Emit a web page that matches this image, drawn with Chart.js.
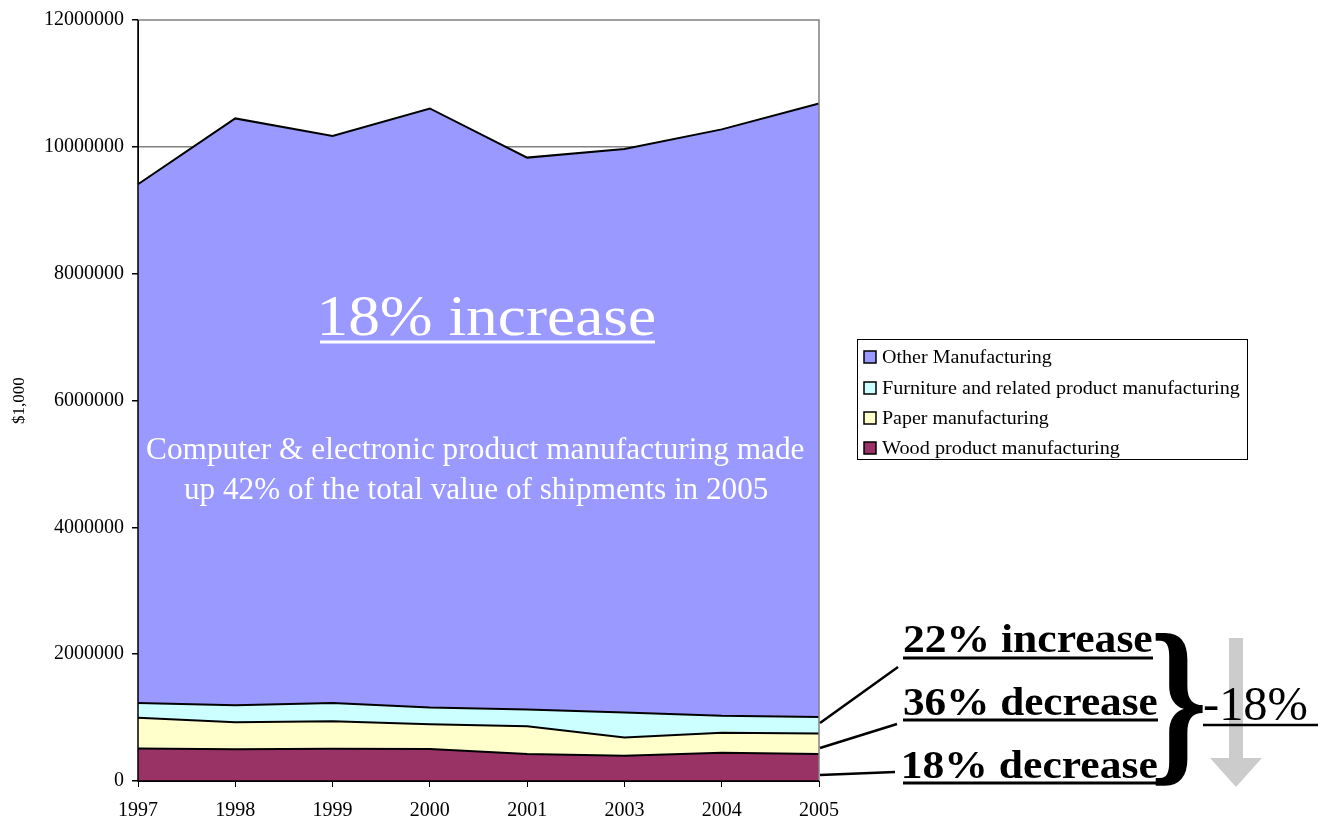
<!DOCTYPE html>
<html>
<head>
<meta charset="utf-8">
<script src="https://cdn.jsdelivr.net/npm/chart.js@4/dist/chart.umd.min.js"></script>
<style>
  body { margin: 0; background: #fff; }
  #wrap { position: relative; width: 1320px; height: 824px; }
  #c { position: absolute; left: 0; top: 0; }
  #overlay { position: absolute; left: 0; top: 0; pointer-events: none; }
</style>
</head>
<body>
<div id="wrap">
  <canvas id="c" width="1320" height="824"></canvas>
  <svg id="overlay" width="1320" height="824" xmlns="http://www.w3.org/2000/svg"></svg>
</div>
<script>
const years = ['1997', '1998', '1999', '2000', '2001', '2003', '2004', '2005'];
// values in $1,000
const wood = [514000, 499000, 508000, 503000, 425000, 398000, 445000, 425000];
const paper = [482000, 429000, 436000, 393000, 440000, 289000, 315000, 325000];
const furniture = [235000, 267000, 287000, 263000, 263000, 393000, 267000, 261000];
const other = [8179000, 9253000, 8940000, 9446000, 8702000, 8886000, 9248000, 9673000];
const seriesNames = ['Wood product manufacturing', 'Paper manufacturing',
  'Furniture and related product manufacturing', 'Other Manufacturing'];
const seriesColors = ['#993366', '#FFFFCC', '#CCFFFF', '#9999FF'];

const serif = '"Liberation Serif", "Times New Roman", serif';

// gray frame on top/right, black axis lines redrawn over the fills
const frame = {
  id: 'frame',
  afterDatasetsDraw(chart) {
    const { ctx, chartArea: a } = chart;
    ctx.save();
    ctx.strokeStyle = '#808080';
    ctx.lineWidth = 1.5;
    ctx.beginPath();
    ctx.moveTo(a.left, a.top);
    ctx.lineTo(a.right, a.top);
    ctx.lineTo(a.right, a.bottom);
    ctx.stroke();
    ctx.strokeStyle = '#000';
    ctx.beginPath();
    ctx.moveTo(a.left, a.top);
    ctx.lineTo(a.left, a.bottom);
    ctx.lineTo(a.right, a.bottom);
    ctx.stroke();
    ctx.restore();
  }
};

const data = [wood, paper, furniture, other];
new Chart(document.getElementById('c'), {
  type: 'line',
  data: {
    labels: years,
    datasets: data.map((d, i) => ({
      label: seriesNames[i],
      data: d,
      backgroundColor: seriesColors[i],
      borderColor: '#000',
      borderWidth: 2,
      fill: i === 0 ? 'origin' : '-1',
      pointRadius: 0,
      tension: 0
    }))
  },
  options: {
    responsive: false,
    animation: false,
    layout: { padding: { top: 18, right: 501, left: 0, bottom: 0 } },
    plugins: { legend: { display: false }, tooltip: { enabled: false } },
    scales: {
      x: {
        afterFit: s => { s.height = 43; },
        grid: { drawOnChartArea: false, tickLength: 6, tickColor: '#000', color: '#000' },
        border: { color: '#000' },
        ticks: { color: '#000', font: { family: serif, size: 20 }, padding: 12, maxRotation: 0, autoSkip: false }
      },
      y: {
        stacked: true,
        min: 0,
        max: 12000000,
        afterFit: s => { s.width = 138; },
        grid: {
          tickLength: 6,
          tickColor: '#000',
          color: c => (c.tick && c.tick.value === 10000000) ? '#808080' : 'rgba(0,0,0,0)',
          lineWidth: 1.5
        },
        border: { color: '#000' },
        ticks: {
          stepSize: 2000000,
          color: '#000',
          font: { family: serif, size: 20 },
          padding: 8,
          callback: v => String(v)
        },
        title: { display: true, text: '$1,000', color: '#000', font: { family: serif, size: 17 }, padding: { top: 9, bottom: 0 } }
      }
    }
  },
  plugins: [frame]
});

// ---- annotations ----
const svgNS = 'http://www.w3.org/2000/svg';
const overlay = document.getElementById('overlay');
const mctx = document.createElement('canvas').getContext('2d');

function el(name, attrs) {
  const e = document.createElementNS(svgNS, name);
  for (const k in attrs) e.setAttribute(k, attrs[k]);
  overlay.appendChild(e);
  return e;
}

// text stretched so its ink spans left..right, sitting on baseline
function addText(str, o) {
  const weight = o.weight || 'normal';
  mctx.font = `${weight} ${o.size}px ${serif}`;
  const m = mctx.measureText(str);
  const ink = m.actualBoundingBoxLeft + m.actualBoundingBoxRight;
  const sx = (o.right - o.left) / ink;
  const tx = o.left + sx * m.actualBoundingBoxLeft;
  const t = el('text', {
    transform: `translate(${tx},${o.base}) scale(${sx},1)`,
    'font-family': serif, 'font-size': o.size, 'font-weight': weight, fill: o.color || '#000'
  });
  t.textContent = str;
}

function line(x1, y1, x2, y2, color, w) {
  el('line', { x1, y1, x2, y2, stroke: color, 'stroke-width': w });
}

// big white notes inside the chart
addText('18% increase', { left: 321, right: 654, base: 335, size: 56, color: '#fff' });
line(320, 342, 655, 342, '#fff', 3);
addText('Computer & electronic product manufacturing made', { left: 147, right: 804, base: 459, size: 31, color: '#fff' });
addText('up 42% of the total value of shipments in 2005', { left: 184, right: 768, base: 499, size: 31, color: '#fff' });

// legend
el('rect', { x: 857.5, y: 339.5, width: 390, height: 120, fill: '#fff', stroke: '#000', 'stroke-width': 1 });
const legendRows = [
  { i: 3, y: 357, right: 1052 },
  { i: 2, y: 388, right: 1240 },
  { i: 1, y: 418, right: 1049 },
  { i: 0, y: 448, right: 1120 }
];
legendRows.forEach(r => {
  el('rect', { x: 864, y: r.y - 6, width: 12, height: 12, fill: seriesColors[r.i], stroke: '#000', 'stroke-width': 1.5 });
  addText(seriesNames[r.i], { left: 882, right: r.right, base: r.y + 6, size: 18 });
});

// leader lines to the change labels
line(820, 723, 898, 667, '#000', 2.5);
line(820, 748, 897, 724, '#000', 2.5);
line(820, 775, 895, 772, '#000', 2.5);

addText('22% increase', { left: 904, right: 1152, base: 652, size: 40, weight: 'bold' });
line(903, 658, 1153, 658, '#000', 3);
addText('36% decrease', { left: 904, right: 1157, base: 715, size: 40, weight: 'bold' });
line(903, 720, 1158, 720, '#000', 3);
addText('18% decrease', { left: 904, right: 1157, base: 778, size: 40, weight: 'bold' });
line(903, 783, 1158, 783, '#000', 3);

// gray down arrow
el('polygon', { points: '1229,638 1243,638 1243,758 1262,758 1236,787 1210,758 1229,758', fill: '#cccccc' });

// brace
(function () {
  const size = 200;
  mctx.font = `bold ${size}px ${serif}`;
  const m = mctx.measureText('}');
  const box = { x: 1155, y: 633, w: 48, h: 153 };
  const sx = box.w / (m.actualBoundingBoxLeft + m.actualBoundingBoxRight);
  const sy = box.h / (m.actualBoundingBoxAscent + m.actualBoundingBoxDescent);
  const tx = box.x + sx * m.actualBoundingBoxLeft;
  const ty = box.y + sy * m.actualBoundingBoxAscent;
  const t = el('text', { transform: `translate(${tx},${ty}) scale(${sx},${sy})`, 'font-family': serif, 'font-size': size, 'font-weight': 'bold', fill: '#000' });
  t.textContent = '}';
})();

addText('-18%', { left: 1204, right: 1307, base: 720, size: 48 });
line(1203, 725, 1318, 725, '#000', 2.5);
</script>
</body>
</html>
